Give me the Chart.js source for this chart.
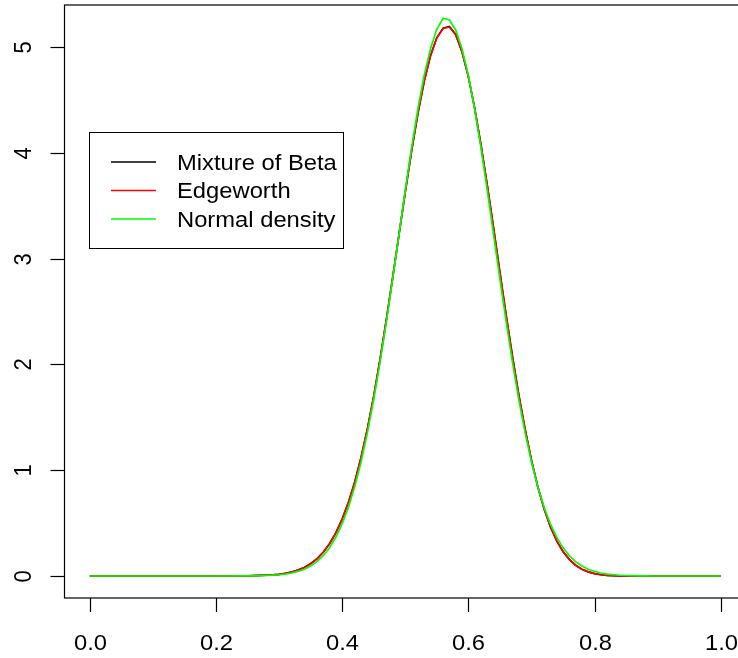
<!DOCTYPE html>
<html>
<head>
<meta charset="utf-8">
<script src="https://cdn.jsdelivr.net/npm/chart.js@4.4.1/dist/chart.umd.min.js"></script>
<style>
  html, body { margin: 0; padding: 0; background: #fff; overflow: hidden; }
  #wrap { width: 760px; height: 658px; }
</style>
</head>
<body>
<div id="wrap"><canvas id="density-chart" width="760" height="658"></canvas></div>
<script>
// x grid of the three density curves
const xValues = [0, 0.1, 0.2, 0.25, 0.26, 0.27, 0.28, 0.29, 0.30, 0.31, 0.32, 0.33, 0.34, 0.35, 0.36, 0.37, 0.38, 0.39,
  0.40, 0.41, 0.42, 0.43, 0.44, 0.45, 0.46, 0.47, 0.48, 0.49, 0.50, 0.51, 0.52, 0.53, 0.54, 0.55, 0.56, 0.57, 0.58, 0.59,
  0.60, 0.61, 0.62, 0.63, 0.64, 0.65, 0.66, 0.67, 0.68, 0.69, 0.70, 0.71, 0.72, 0.73, 0.74, 0.75, 0.76, 0.77, 0.78, 0.79,
  0.80, 0.81, 0.82, 0.83, 0.84, 0.85, 0.86, 0.87, 0.88, 0.9, 1.0];

const mixtureBeta = [0, 0, 0, 0.002, 0.003, 0.005, 0.007, 0.011, 0.016, 0.025, 0.038, 0.056, 0.081, 0.116, 0.162, 0.224, 0.305, 0.408,
  0.538, 0.697, 0.889, 1.120, 1.390, 1.698, 2.045, 2.420, 2.817, 3.225, 3.629, 4.016, 4.370, 4.675, 4.918, 5.087, 5.178, 5.195, 5.118, 4.955,
  4.720, 4.422, 4.075, 3.691, 3.287, 2.870, 2.460, 2.070, 1.710, 1.385, 1.095, 0.845, 0.635, 0.465, 0.332, 0.232, 0.157, 0.102, 0.064, 0.039,
  0.022, 0.012, 0.006, 0.003, 0.001, 0, 0, 0, 0, 0, 0];

const edgeworth = [0, 0, 0, 0.002, 0.003, 0.005, 0.007, 0.011, 0.016, 0.025, 0.038, 0.056, 0.081, 0.116, 0.162, 0.224, 0.305, 0.408,
  0.538, 0.697, 0.889, 1.120, 1.390, 1.698, 2.045, 2.420, 2.817, 3.225, 3.629, 4.016, 4.370, 4.675, 4.918, 5.087, 5.175, 5.190, 5.115, 4.953,
  4.720, 4.422, 4.075, 3.691, 3.287, 2.870, 2.460, 2.070, 1.710, 1.385, 1.095, 0.845, 0.635, 0.465, 0.332, 0.232, 0.157, 0.102, 0.064, 0.039,
  0.022, 0.012, 0.006, 0.003, 0.001, 0, 0, 0, 0, 0, 0];

const normalDensity = [0, 0, 0, 0.0008, 0.0015, 0.0027, 0.0045, 0.0074, 0.0117, 0.0184, 0.0284, 0.0431, 0.0642, 0.0943, 0.1358, 0.1922, 0.2678, 0.3663,
  0.4926, 0.651, 0.845, 1.078, 1.352, 1.666, 2.016, 2.399, 2.807, 3.227, 3.645, 4.046, 4.414, 4.732, 4.984, 5.168, 5.272, 5.255, 5.161, 4.984,
  4.731, 4.412, 4.044, 3.643, 3.225, 2.806, 2.400, 2.017, 1.664, 1.352, 1.077, 0.844, 0.650, 0.493, 0.367, 0.268, 0.192, 0.136, 0.094, 0.064,
  0.043, 0.028, 0.018, 0.012, 0.007, 0.0045, 0.0027, 0.0016, 0.0009, 0, 0];

const xTicks = [0, 0.2, 0.4, 0.6, 0.8, 1.0];
const xTickLabels = ['0.0', '0.2', '0.4', '0.6', '0.8', '1.0'];
const yTicks = [0, 1, 2, 3, 4, 5];
const yTickLabels = ['0', '1', '2', '3', '4', '5'];

const seriesNames = ['Mixture of Beta', 'Edgeworth', 'Normal density'];
const seriesColors = ['#000000', '#ff0000', '#00ff00'];

const FONT = '22px "Liberation Sans", Arial, Helvetica, sans-serif';
const STRETCH = 1.08; // text in the reference is a bit wider than tall

const toPoints = function(ys) {
  return xValues.map((x, i) => ({ x: x, y: ys[i] }));
};

// R-style box, axes and legend drawn around the chart area
const baseGraphics = {
  id: 'baseGraphics',
  afterDatasetsDraw(chart) {
    const ctx = chart.ctx;
    const area = chart.chartArea;
    const xs = chart.scales.x;
    const ys = chart.scales.y;

    ctx.save();
    ctx.strokeStyle = '#000';
    ctx.fillStyle = '#000';
    ctx.lineWidth = 1.2;

    // plot box
    ctx.strokeRect(area.left, area.top, area.right - area.left, area.bottom - area.top);

    ctx.font = FONT;

    // x axis ticks and labels
    xTicks.forEach((v, i) => {
      const px = Math.round(xs.getPixelForValue(v)) + 0.5;
      ctx.beginPath();
      ctx.moveTo(px, area.bottom);
      ctx.lineTo(px, area.bottom + 14);
      ctx.stroke();
      ctx.save();
      ctx.translate(px, 650);
      ctx.scale(STRETCH, 1);
      ctx.textAlign = 'center';
      ctx.textBaseline = 'alphabetic';
      ctx.fillText(xTickLabels[i], 0, 0);
      ctx.restore();
    });

    // y axis ticks and rotated labels
    yTicks.forEach((v, i) => {
      const py = Math.round(ys.getPixelForValue(v)) + 0.5;
      ctx.beginPath();
      ctx.moveTo(area.left, py);
      ctx.lineTo(area.left - 14, py);
      ctx.stroke();
      ctx.save();
      ctx.translate(22.5, py);
      ctx.scale(STRETCH, 1);
      ctx.rotate(-Math.PI / 2);
      ctx.textAlign = 'center';
      ctx.textBaseline = 'alphabetic';
      ctx.fillText(yTickLabels[i], 0, 7.9);
      ctx.restore();
    });

    // legend
    ctx.lineWidth = 1;
    ctx.strokeRect(89.5, 132.5, 254, 116);
    const rowY = [162, 190.5, 219];
    seriesNames.forEach((name, i) => {
      ctx.strokeStyle = seriesColors[i];
      ctx.lineWidth = 1.3;
      ctx.beginPath();
      ctx.moveTo(111, rowY[i]);
      ctx.lineTo(156, rowY[i]);
      ctx.stroke();
      ctx.save();
      ctx.translate(177, rowY[i] + 7.9);
      ctx.scale(STRETCH, 1);
      ctx.textAlign = 'left';
      ctx.textBaseline = 'alphabetic';
      ctx.fillStyle = '#000';
      ctx.fillText(name, 0, 0);
      ctx.restore();
    });

    ctx.restore();
  }
};

const makeDataset = function(label, ys, color, order) {
  return {
    label: label,
    data: toPoints(ys),
    borderColor: color,
    borderWidth: 1.7,
    pointRadius: 0,
    tension: 0,
    fill: false,
    order: order
  };
};

new Chart(document.getElementById('density-chart').getContext('2d'), {
  type: 'line',
  data: {
    datasets: [
      makeDataset(seriesNames[0], mixtureBeta, seriesColors[0], 2),
      makeDataset(seriesNames[1], edgeworth, seriesColors[1], 1),
      makeDataset(seriesNames[2], normalDensity, seriesColors[2], 0)
    ]
  },
  options: {
    responsive: false,
    animation: false,
    devicePixelRatio: 1,
    layout: { padding: { left: 64.5, top: 5, right: 14, bottom: 60 } },
    scales: {
      x: { type: 'linear', min: -0.04, max: 1.04, display: false },
      y: { type: 'linear', min: -0.208, max: 5.397, display: false }
    },
    plugins: {
      legend: { display: false },
      tooltip: { enabled: false }
    }
  },
  plugins: [baseGraphics]
});
</script>
</body>
</html>
